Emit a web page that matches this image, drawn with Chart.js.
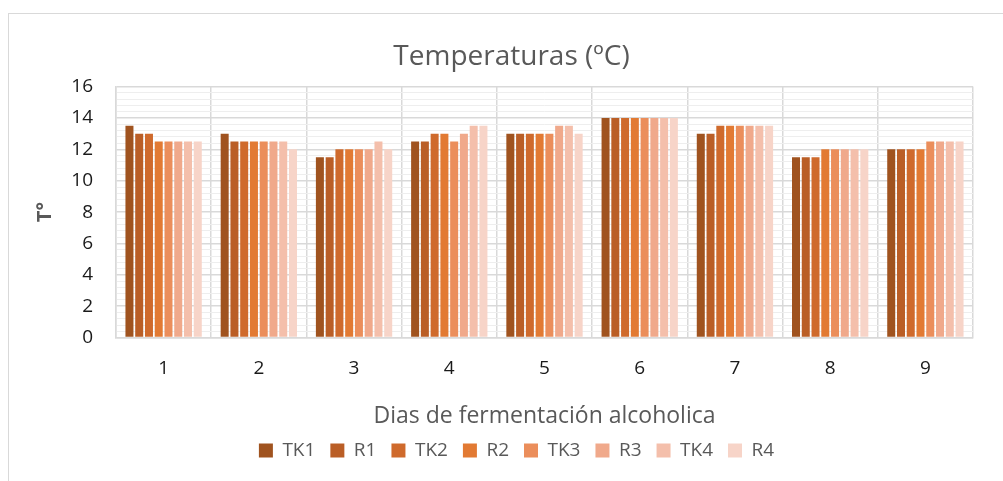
<!DOCTYPE html>
<html lang="es">
<head>
  <meta charset="UTF-8">
  <title>Temperaturas</title>
  <script src="https://cdn.jsdelivr.net/npm/chart.js"></script>
  <style>
    html, body { margin: 0; padding: 0; background: #fff; }
    #frame {
      position: absolute; left: 8px; top: 13px;
      width: 1020px; height: 475px;
      border: 1px solid #d9d9d9;
    }
    #wrap { position: absolute; left: 0; top: 0; width: 1003px; height: 481px; }
  </style>
</head>
<body>
  <div id="frame"></div>
  <div id="wrap"><canvas id="tempChart"></canvas></div>

  <script>
    // datos
    var dias = ['1', '2', '3', '4', '5', '6', '7', '8', '9'];
    var tk1 = [13.5, 13, 11.5, 12.5, 13, 14, 13, 11.5, 12];
    var r1  = [13, 12.5, 11.5, 12.5, 13, 14, 13, 11.5, 12];
    var tk2 = [13, 12.5, 12, 13, 13, 14, 13.5, 11.5, 12];
    var r2  = [12.5, 12.5, 12, 13, 13, 14, 13.5, 12, 12];
    var tk3 = [12.5, 12.5, 12, 12.5, 13, 14, 13.5, 12, 12.5];
    var r3  = [12.5, 12.5, 12, 13, 13.5, 14, 13.5, 12, 12.5];
    var tk4 = [12.5, 12.5, 12.5, 13.5, 13.5, 14, 13.5, 12, 12.5];
    var r4  = [12.5, 12, 12, 13.5, 13, 14, 13.5, 12, 12.5];

    var nombres = ['TK1', 'R1', 'TK2', 'R2', 'TK3', 'R3', 'TK4', 'R4'];
    var series = [tk1, r1, tk2, r2, tk3, r3, tk4, r4];
    var colores = ['#a0531f', '#ba5e26', '#cf6a2c', '#e27a33', '#eb8e5b', '#f0a98b', '#f4bfab', '#f7d4c8'];

    var fuente = "'Open Sans', sans-serif";

    var datasets = series.map(function (s, i) {
      return {
        label: nombres[i],
        data: s,
        backgroundColor: colores[i],
        borderWidth: 0,
        barPercentage: 0.82,
        categoryPercentage: 0.82
      };
    });

    function esMayor(v) {
      return Math.abs(v / 2 - Math.round(v / 2)) < 1e-6;
    }

    // el grafico original es un poco mas ancho: titulo y leyenda van corridos a la derecha
    var correrCajas = {
      id: 'correrCajas',
      afterUpdate: function (chart) {
        var t = chart.titleBlock;
        if (t) { t.left += 12; t.right += 12; }
        var l = chart.legend;
        if (l) {
          l.left += 17; l.right += 17;
          l.top -= 4; l.bottom -= 4;
          l.adjustHitBoxes();
        }
      }
    };

    var ctx = document.getElementById('tempChart').getContext('2d');
    var chart = new Chart(ctx, {
      type: 'bar',
      data: { labels: dias, datasets: datasets },
      plugins: [correrCajas],
      options: {
        responsive: true,
        maintainAspectRatio: false,
        animation: false,
        layout: { padding: { left: 26, right: 30, top: 18, bottom: 7 } },
        plugins: {
          title: {
            display: true,
            text: 'Temperaturas (ºC)',
            color: '#595959',
            font: { family: fuente, size: 28, weight: 'normal' },
            padding: { top: 22, bottom: 13 }
          },
          legend: {
            position: 'bottom',
            labels: {
              color: '#595959',
              font: { family: fuente, size: 19 },
              boxWidth: 14,
              boxHeight: 14,
              padding: 15
            }
          },
          tooltip: { enabled: false }
        },
        scales: {
          x: {
            grid: {
              offset: true,
              color: '#d9d9d9',
              lineWidth: 1.5,
              drawTicks: false
            },
            border: { color: '#d9d9d9', width: 1.5 },
            ticks: {
              color: '#1a1a1a',
              font: { family: fuente, size: 19 },
              padding: 20
            },
            title: {
              display: true,
              text: 'Dias de fermentación alcoholica',
              color: '#595959',
              font: { family: fuente, size: 23 },
              padding: { top: 2, bottom: 0 }
            }
          },
          y: {
            min: 0,
            max: 16,
            afterFit: function (scale) { scale.width = 90; },
            ticks: {
              stepSize: 0.4,
              maxTicksLimit: 100,
              autoSkip: false,
              color: '#1a1a1a',
              font: { family: fuente, size: 19 },
              padding: 23,
              callback: function (v) {
                return esMayor(v) ? String(Math.round(v)) : '';
              }
            },
            grid: {
              drawTicks: false,
              color: function (c) {
                return c.tick && esMayor(c.tick.value) ? '#d9d9d9' : '#eeeeee';
              },
              lineWidth: function (c) {
                return c.tick && esMayor(c.tick.value) ? 1.5 : 1;
              }
            },
            border: { color: '#d9d9d9', width: 1.5 },
            title: {
              display: true,
              text: 'T°',
              color: '#595959',
              font: { family: fuente, size: 20, weight: 'bold' },
              padding: { top: 7, bottom: 0 }
            }
          }
        }
      }
    });
  </script>
</body>
</html>
